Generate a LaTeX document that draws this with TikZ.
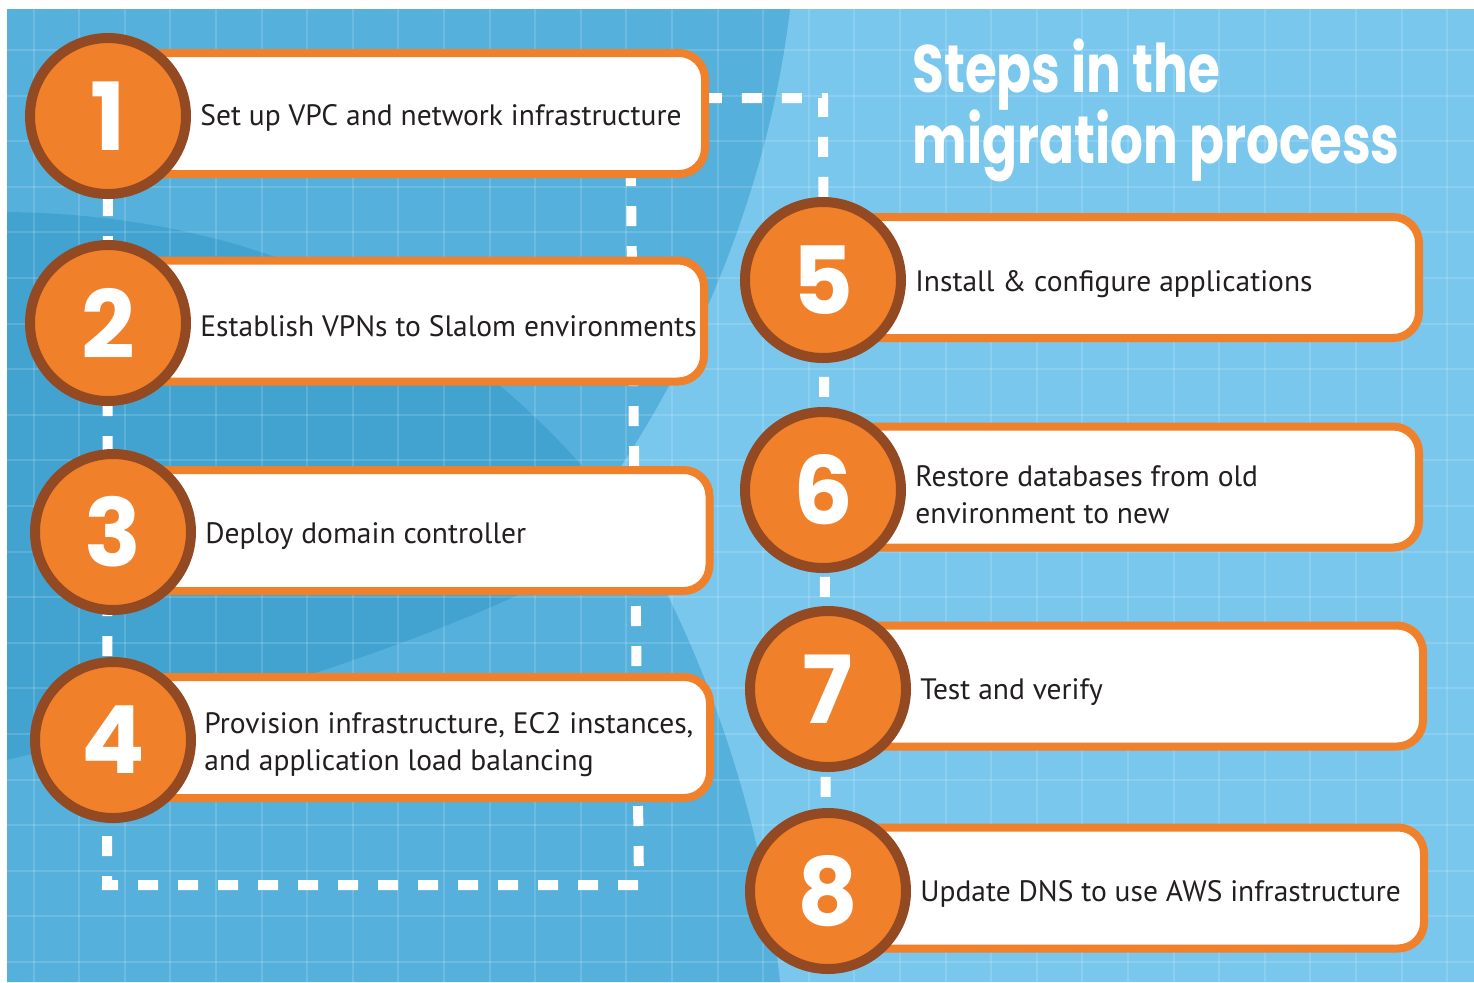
\documentclass[tikz,border=0pt]{standalone}
\usepackage{fontspec}
\setmainfont{PT Sans}
\newfontfamily\headfont{Poppins}[FakeStretch=0.77]
\newfontfamily\digitfont{Poppins}
\definecolor{stepOrange}{HTML}{F0802A}
\definecolor{ringBrown}{HTML}{934A22}
\definecolor{skyLight}{HTML}{7AC7EE}
\definecolor{skyMid}{HTML}{55B0DB}
\definecolor{skyDeep}{HTML}{42A3D0}
\definecolor{ink}{HTML}{231F20}
\begin{document}
\begin{tikzpicture}[x=0.5pt,y=-0.5pt,
        num/.style={circle,draw=ringBrown,fill=stepOrange,line width=5pt,minimum size=78pt,inner sep=0pt,text=white,font=\digitfont\bfseries\fontsize{47}{47}\selectfont},
        stepbox/.style={draw=stepOrange,fill=white,line width=4pt,rounded corners=13pt,minimum width=296pt,minimum height=60.5pt},
        steptext/.style={anchor=west,align=left,inner sep=0pt,text=ink,font=\fontsize{14.75}{18.5}\selectfont},
        heading/.style={anchor=base west,inner sep=0pt,text=white,font=\headfont\bfseries\fontsize{33.5}{33.5}\selectfont},
        trail/.style={draw=white,line width=5pt,dash pattern=on 10pt off 10pt},
        gridline/.style={draw=white,draw opacity=0.14,line width=1pt}]
    \useasboundingbox (0,0) rectangle (1474,982);
    % backdrop
    \fill[white] (0,0) rectangle (1474,982);
    \fill[skyLight] (7,9) rectangle (1474,982);
    \fill[skyMid] (7,9) -- (790,9) .. controls (770,180) and (700,350) .. (615,475)
        -- (600,540) -- (665,590) .. controls (720,700) and (765,840) .. (780,982) -- (7,982) -- cycle;
    \fill[skyDeep] (7,212) .. controls (230,215) and (430,290) .. (590,475)
        -- (560,575) .. controls (430,640) and (250,700) .. (7,760) -- cycle;
    \foreach \i in {0,...,31}
        \draw[gridline] ({33.5+45.6*\i},9) -- ++(0,973);
    \foreach \j in {0,...,20}
        \draw[gridline] (7,{50+45.6*\j}) -- ++(1467,0);

    % dashed route
    \coordinate (loopSW) at (107,885);
    \coordinate (loopSE) at (639,885);
    \coordinate (loopNE) at (630,98);
    \coordinate (loopTop) at (823,98);
    \coordinate (s1) at (108,116);
    \coordinate (s8) at (826,891);
    \draw[trail] (s1) -- (loopSW) -- (loopSE) -- (loopNE) -- (loopTop) -- (s8);

    % boxes
    \node[stepbox] (b1) at (409,113.5) {};
    \node[stepbox] (b2) at (408,321) {};
    \node[stepbox] (b3) at (413.5,530.5) {};
    \node[stepbox] (b4) at (414,737.5) {};
    \node[stepbox] (b5) at (1123,277.5) {};
    \node[stepbox] (b6) at (1123,487) {};
    \node[stepbox] (b7) at (1127,686) {};
    \node[stepbox] (b8) at (1128,888) {};

    % numbered discs
    \node[num] (n1) at (108,116) {1};
    \node[num] (n2) at (108,323) {2};
    \node[num] (n3) at (113,532) {3};
    \node[num] (n4) at (113,740) {4};
    \node[num] (n5) at (823,280) {5};
    \node[num] (n6) at (823,490) {6};
    \node[num] (n7) at (828,689) {7};
    \node[num] (n8) at (828,891) {8};

    % step texts
    \node[steptext] (t1) at (200,118) {Set up VPC and network infrastructure};
    \node[steptext] (t2) at (200,326) {Establish VPNs to Slalom environments};
    \node[steptext] (t3) at (205,536) {Deploy domain controller};
    \node[steptext] (t4) at (204,745) {Provision infrastructure, EC2 instances,\\and application load balancing};
    \node[steptext] (t5) at (915,284) {Install \& configure applications};
    \node[steptext] (t6) at (915,495) {Restore databases from old\\environment to new};
    \node[steptext] (t7) at (920,692) {Test and verify};
    \node[steptext] (t8) at (920,894) {Update DNS to use AWS infrastructure};

    % heading
    \node[heading] (h1) at (912,92) {Steps in the};
    \node[heading] (h2) at (912,163) {migration process};
\end{tikzpicture}
\end{document}
